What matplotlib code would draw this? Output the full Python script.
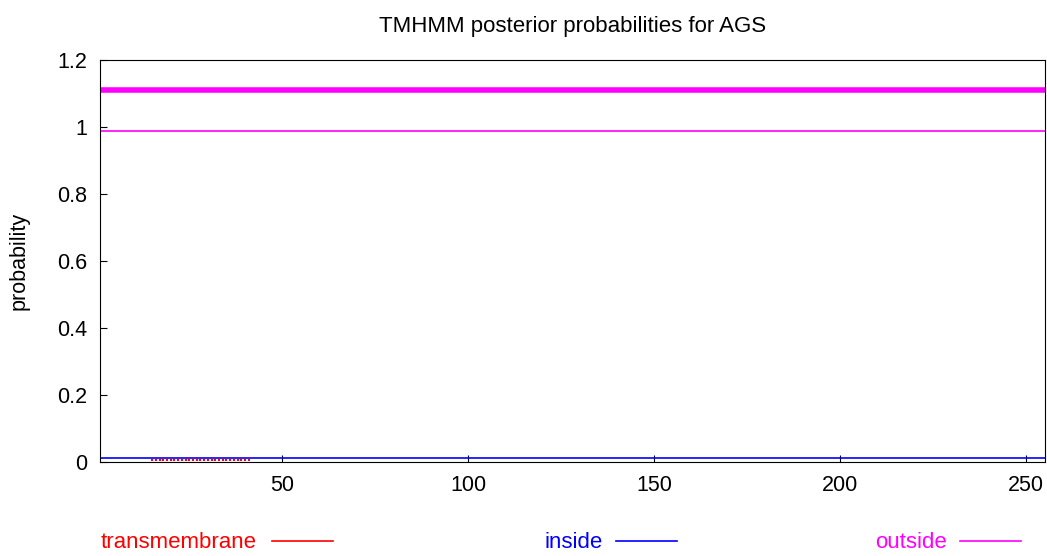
import numpy as np
import matplotlib.pyplot as plt
from matplotlib.lines import Line2D

plt.rcParams['font.family'] = ['Liberation Sans', 'DejaVu Sans']

# data
seq_ends = [1, 255]
inside_prob = [0.012, 0.012]
outside_prob = [0.988, 0.988]
outside_region = [1.11, 1.11]
tm_pos = np.arange(15, 42)
tm_prob = [0.008] * len(tm_pos)

fig = plt.figure(figsize=(10.47, 5.56), dpi=100)
ax = fig.add_axes([0.0955, 0.169, 0.9025, 0.723])

ax.vlines(tm_pos, 0.002, tm_prob, color='red', lw=1.5, zorder=3)
ax.plot(seq_ends, inside_prob, color='blue', lw=1.2)
ax.plot(seq_ends, outside_prob, color='magenta', lw=1.2)
ax.plot(seq_ends, outside_region, color='magenta', lw=4)

ax.set_xlim(1, 255)
ax.set_ylim(0, 1.2)
ax.set_xticks([50, 100, 150, 200, 250])
ax.set_yticks([0, 0.2, 0.4, 0.6, 0.8, 1, 1.2])
ax.set_yticklabels(['0', '0.2', '0.4', '0.6', '0.8', '1', '1.2'])
ax.tick_params(direction='in', length=5, labelsize=15.5, pad=9)
ax.set_ylabel('probability', fontsize=15.5, labelpad=20)
ax.set_title('TMHMM posterior probabilities for AGS', fontsize=16, pad=20)

# legend row at the bottom
legend = [('transmembrane', 'red', 0.096, 0.26, 0.318),
          ('inside', 'blue', 0.52, 0.588, 0.647),
          ('outside', 'magenta', 0.836, 0.917, 0.975)]
for label, col, tx, x0, x1 in legend:
    fig.text(tx, 0.014, label, color=col, fontsize=16, va='baseline')
    fig.add_artist(Line2D([x0, x1], [0.027, 0.027], color=col, lw=1.2,
                          transform=fig.transFigure))

fig.savefig('out.png')
